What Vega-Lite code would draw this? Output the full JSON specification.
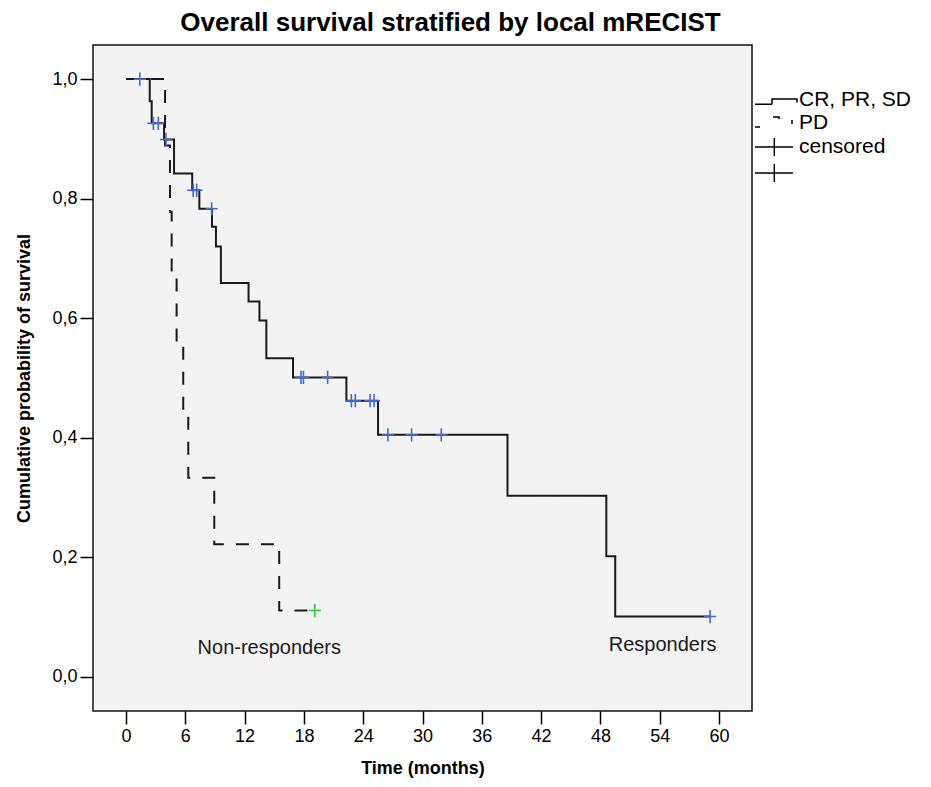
{
  "$schema": "https://vega.github.io/schema/vega-lite/v6.json",
  "width": 659,
  "height": 666,
  "autosize": {"type": "none"},
  "padding": {"left": 93, "top": 45, "right": 179, "bottom": 76},
  "background": "white",
  "title": {
    "text": "Overall survival stratified by local mRECIST",
    "anchor": "middle",
    "dx": 28,
    "offset": 9,
    "font": "Liberation Sans",
    "fontSize": 26,
    "fontWeight": "bold",
    "color": "black"
  },
  "config": {
    "view": {"fill": "#f3f3f3", "stroke": "#111111", "strokeWidth": 1.5},
    "font": "Liberation Sans",
    "axis": {
      "domain": false,
      "grid": false,
      "tickColor": "black",
      "tickWidth": 1.5,
      "tickSize": 13,
      "labelColor": "black",
      "labelFont": "Liberation Sans",
      "labelFontSize": 18,
      "labelPadding": 3,
      "titleColor": "black",
      "titleFont": "Liberation Sans",
      "titleFontSize": 18,
      "titleFontWeight": "bold"
    }
  },
  "datasets": {
    "curves": [
      {"group": "CR, PR, SD", "t": 0, "s": 1.0},
      {"group": "CR, PR, SD", "t": 2.4, "s": 0.963},
      {"group": "CR, PR, SD", "t": 2.6, "s": 0.926},
      {"group": "CR, PR, SD", "t": 3.85, "s": 0.899},
      {"group": "CR, PR, SD", "t": 4.86, "s": 0.842},
      {"group": "CR, PR, SD", "t": 6.7, "s": 0.814},
      {"group": "CR, PR, SD", "t": 7.42, "s": 0.783},
      {"group": "CR, PR, SD", "t": 8.7, "s": 0.753},
      {"group": "CR, PR, SD", "t": 9.1, "s": 0.72},
      {"group": "CR, PR, SD", "t": 9.6, "s": 0.659},
      {"group": "CR, PR, SD", "t": 12.4, "s": 0.628},
      {"group": "CR, PR, SD", "t": 13.5, "s": 0.596},
      {"group": "CR, PR, SD", "t": 14.2, "s": 0.533},
      {"group": "CR, PR, SD", "t": 16.9, "s": 0.501},
      {"group": "CR, PR, SD", "t": 22.3, "s": 0.462},
      {"group": "CR, PR, SD", "t": 25.5, "s": 0.405},
      {"group": "CR, PR, SD", "t": 38.6, "s": 0.303},
      {"group": "CR, PR, SD", "t": 48.6, "s": 0.202},
      {"group": "CR, PR, SD", "t": 49.5, "s": 0.101},
      {"group": "CR, PR, SD", "t": 59.1, "s": 0.101},
      {"group": "PD", "t": 0, "s": 1.0},
      {"group": "PD", "t": 3.95, "s": 0.889},
      {"group": "PD", "t": 4.45, "s": 0.778},
      {"group": "PD", "t": 4.62, "s": 0.667},
      {"group": "PD", "t": 5.12, "s": 0.556},
      {"group": "PD", "t": 5.79, "s": 0.444},
      {"group": "PD", "t": 6.3, "s": 0.333},
      {"group": "PD", "t": 8.93, "s": 0.222},
      {"group": "PD", "t": 15.5, "s": 0.111},
      {"group": "PD", "t": 19.1, "s": 0.111}
    ],
    "censored": [
      {"group": "CR, PR, SD", "t": 1.4, "s": 1.0},
      {"group": "CR, PR, SD", "t": 2.77, "s": 0.926},
      {"group": "CR, PR, SD", "t": 3.27, "s": 0.926},
      {"group": "CR, PR, SD", "t": 4.05, "s": 0.899},
      {"group": "CR, PR, SD", "t": 6.8, "s": 0.814},
      {"group": "CR, PR, SD", "t": 7.15, "s": 0.814},
      {"group": "CR, PR, SD", "t": 8.67, "s": 0.783},
      {"group": "CR, PR, SD", "t": 17.7, "s": 0.501},
      {"group": "CR, PR, SD", "t": 17.95, "s": 0.501},
      {"group": "CR, PR, SD", "t": 20.4, "s": 0.501},
      {"group": "CR, PR, SD", "t": 22.8, "s": 0.462},
      {"group": "CR, PR, SD", "t": 23.2, "s": 0.462},
      {"group": "CR, PR, SD", "t": 24.7, "s": 0.462},
      {"group": "CR, PR, SD", "t": 25.1, "s": 0.462},
      {"group": "CR, PR, SD", "t": 26.5, "s": 0.405},
      {"group": "CR, PR, SD", "t": 28.9, "s": 0.405},
      {"group": "CR, PR, SD", "t": 31.9, "s": 0.405},
      {"group": "CR, PR, SD", "t": 59.1, "s": 0.101},
      {"group": "PD", "t": 19.1, "s": 0.111}
    ],
    "labels": [
      {"label": "Non-responders", "t": 14.5, "s": 0.048},
      {"label": "Responders", "t": 54.3, "s": 0.054}
    ]
  },
  "layer": [
    {
      "data": {"name": "curves"},
      "mark": {"type": "line", "interpolate": "step-after", "color": "#1a1a1a", "strokeWidth": 2, "clip": true},
      "encoding": {
        "x": {
          "field": "t", "type": "quantitative",
          "scale": {"domain": [-3.34, 63.34], "nice": false, "zero": false},
          "axis": {"values": [0, 6, 12, 18, 24, 30, 36, 42, 48, 54, 60], "title": "Time (months)", "titlePadding": 14}
        },
        "y": {
          "field": "s", "type": "quantitative",
          "scale": {"domain": [-0.057, 1.057], "nice": false, "zero": false},
          "axis": {
            "values": [0, 0.2, 0.4, 0.6, 0.8, 1.0],
            "labelExpr": "replace(format(datum.value, '.1f'), '.', ',')",
            "title": "Cumulative probability of survival",
            "titlePadding": 18
          }
        },
        "strokeDash": {
          "field": "group", "type": "nominal",
          "scale": {
            "domain": ["CR, PR, SD", "PD", "censored", "blank"],
            "range": [[1, 0], [13, 12], [1, 0], [1, 0]]
          },
          "legend": {
            "orient": "none",
            "legendX": 662,
            "legendY": 44,
            "title": null,
            "padding": 0,
            "symbolSize": 400,
            "symbolStrokeColor": "black",
            "symbolStrokeWidth": 1.5,
            "labelFont": "Liberation Sans",
            "labelFontSize": 21,
            "labelColor": "black",
            "labelOffset": 22,
            "rowPadding": 2,
            "labelExpr": "datum.value === 'blank' ? '' : datum.label",
            "encode": {
              "symbols": {
                "update": {
                  "shape": {"signal": "datum.value === 'CR, PR, SD' ? 'M-1.1,0.43H0.6V-0.1H3.1V0.25' : (datum.value === 'PD' ? 'M-1.1,0.4H-0.6M0.7,-0.6H1.3V-0.4M2.6,-0.3V0.1' : 'M-1.1,0H2.7M0.83,-0.9V0.9')"},
                  "strokeDash": {"value": [1, 0]},
                  "fill": {"value": "transparent"},
                  "stroke": {"value": "black"}
                }
              }
            }
          }
        }
      }
    },
    {
      "data": {"name": "censored"},
      "mark": {"type": "point", "shape": "M-1,0H1M0,-1.1V1.1", "filled": false, "size": 144, "strokeWidth": 1.6, "opacity": 1},
      "encoding": {
        "x": {"field": "t", "type": "quantitative"},
        "y": {"field": "s", "type": "quantitative"},
        "color": {
          "field": "group", "type": "nominal",
          "scale": {"domain": ["CR, PR, SD", "PD"], "range": ["#4a68c8", "#3cbf45"]},
          "legend": null
        }
      }
    },
    {
      "data": {"name": "labels"},
      "mark": {"type": "text", "font": "Liberation Sans", "fontSize": 20, "color": "#1a1a1a", "align": "center", "baseline": "middle"},
      "encoding": {
        "x": {"field": "t", "type": "quantitative"},
        "y": {"field": "s", "type": "quantitative"},
        "text": {"field": "label"}
      }
    }
  ]
}
